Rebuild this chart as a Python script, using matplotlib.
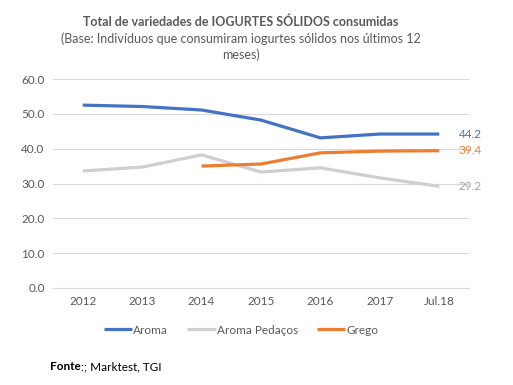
import matplotlib

matplotlib.use("Agg", force=True)
import matplotlib.pyplot as plt
import numpy as np

categories = ["2012", "2013", "2014", "2015", "2016", "2017", "Jul.18"]
aroma = [52.5, 52.1, 51.1, 48.2, 43.1, 44.2, 44.2]
aroma_pedacos = [33.6, 34.7, 38.2, 33.3, 34.5, 31.6, 29.2]
grego = [np.nan, np.nan, 35.0, 35.6, 38.8, 39.3, 39.4]
yticks = [0, 10, 20, 30, 40, 50, 60]

series = [
    ("Aroma", aroma, "#4472C4", "#4472C4"),
    ("Aroma Pedaços", aroma_pedacos, "#D0CECE", "#A5A5A5"),
    ("Grego", grego, "#ED7D31", "#ED7D31"),
]

plt.rcParams["font.family"] = ["Lato", "DejaVu Sans"]
text_color = "#595959"

fig = plt.figure(figsize=(5.13, 3.85), dpi=100)
ax = fig.add_axes([53 / 513, 1 - 288 / 385, (469 - 53) / 513, (288 - 79) / 385])

x = np.arange(len(categories))
for name, values, color, label_color in series:
    ax.plot(x, values, color=color, linewidth=2.3, label=name, solid_capstyle="butt")
    ax.annotate(f"{values[-1]:.1f}", (x[-1], values[-1]), xytext=(14, 0),
                textcoords="offset points", color=label_color, fontsize=8.5, va="center")

ax.set_xlim(-0.5, len(categories) - 0.5)
ax.set_ylim(0, 60)
ax.set_yticks(yticks)
ax.set_yticklabels([f"{v:.1f}" for v in yticks])
ax.set_xticks(x)
ax.set_xticklabels(categories)
ax.yaxis.grid(True, color="#D9D9D9", linewidth=0.8)
ax.set_axisbelow(True)
for side in ["left", "right", "top"]:
    ax.spines[side].set_visible(False)
ax.spines["bottom"].set_color("#D9D9D9")
ax.tick_params(axis="both", length=0, colors=text_color, labelsize=8.5, pad=6)

fig.legend(loc="center", bbox_to_anchor=(0.47, 1 - 330 / 385), ncol=3, frameon=False,
           fontsize=8.5, labelcolor=text_color, handlelength=2.4, handletextpad=0.1,
           columnspacing=1.6)

fig.text(0.47, 1 - 22 / 385, "Total de variedades de IOGURTES SÓLIDOS consumidas",
         ha="center", va="center", fontsize=9, fontweight="bold", color=text_color)
fig.text(0.47, 1 - 47 / 385, "(Base: Indivíduos que consumiram iogurtes sólidos nos últimos 12\nmeses)",
         ha="center", va="center", fontsize=9, color=text_color, linespacing=1.35)

# source note: bold "Fonte" followed by regular text
fonte = fig.text(50 / 513, 1 - 367 / 385, "Fonte", fontsize=8.5, fontweight="bold", va="center")
fig.canvas.draw()
bb = fonte.get_window_extent()
fig.text(bb.x1 / fig.bbox.width, 1 - 367 / 385, ":; Marktest, TGI", fontsize=8.5, va="center")

fig.savefig("out.png", dpi=100)
